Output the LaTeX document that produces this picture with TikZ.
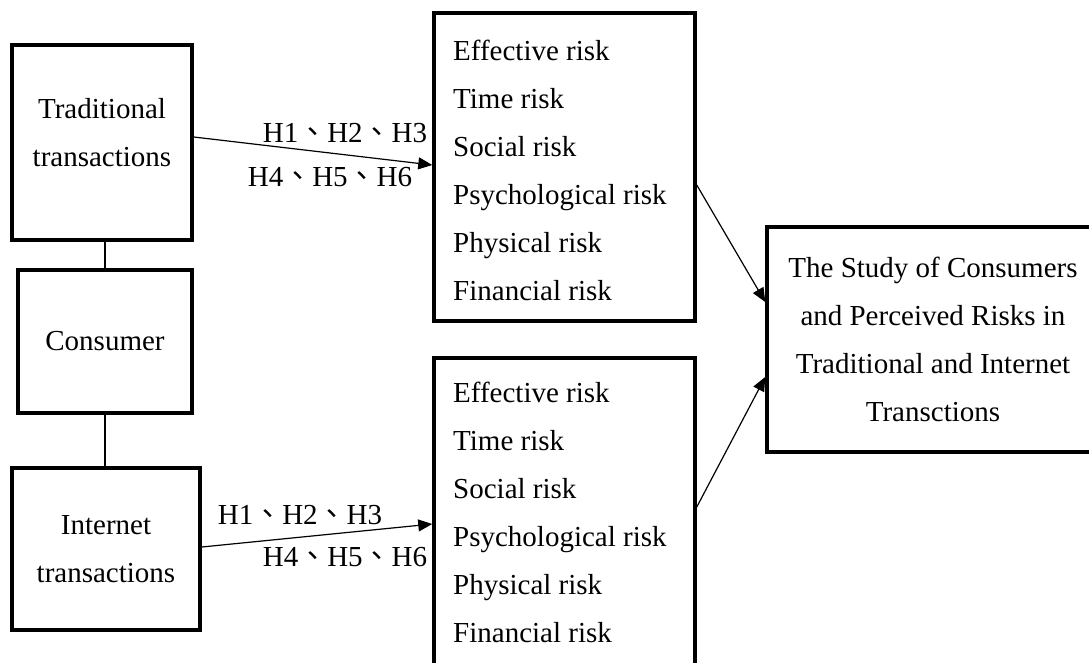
\documentclass[tikz,border=0pt]{standalone}
\usepackage{fontspec}
\setmainfont{Liberation Serif}
\newfontfamily\cjk{Noto Sans CJK TC}
\usetikzlibrary{arrows.meta}
\begin{document}
\begin{tikzpicture}[x=1pt,y=-1pt,
  box/.style={draw, line width=3.5pt, rectangle, inner sep=0pt},
  txt/.style={font=\fontsize{29}{48}\selectfont, inner sep=0pt},
  arr/.style={line width=1.2pt, -{Triangle[length=14pt,width=12pt]}},
  link/.style={line width=1.2pt}]
\clip (0,0) rectangle (1089,662);
\fill[white] (0,0) rectangle (1089,662);
% left boxes
\node[box, minimum width=180pt, minimum height=195pt] (trad) at (102,142.5) {};
\node[txt, align=center] (tradt) at (102,132.5) {Traditional\\transactions};
\node[box, txt, minimum width=174pt, minimum height=143pt] (cons) at (105,341.5) {Consumer};
\node[box, txt, align=center, minimum width=188pt, minimum height=162pt] (inet) at (106,549) {Internet\\transactions};
% risk boxes
\node[box, minimum width=261pt, minimum height=308pt] (r1) at (564.5,167) {};
\node[txt, align=left, anchor=west] (r1t) at (453,170) {Effective risk\\Time risk\\Social risk\\Psychological risk\\Physical risk\\Financial risk};
\node[box, minimum width=261pt, minimum height=308pt] (r2) at (564.5,512) {};
\node[txt, align=left, anchor=west] (r2t) at (453,512.5) {Effective risk\\Time risk\\Social risk\\Psychological risk\\Physical risk\\Financial risk};
% final box
\node[box, txt, align=center, minimum width=332pt, minimum height=225pt] (fin) at (933,339.5) {The Study of Consumers\\and Perceived Risks in\\Traditional and Internet\\Transctions};
% connectors
\draw[link] (cons.north) -- (trad.south -| cons.north);
\draw[link] (cons.south) -- (inet.north -| cons.south);
\draw[arr] ([yshift=5.5pt]trad.east) -- ([yshift=2pt]r1.west);
\draw[arr] ([yshift=2pt]inet.east) -- ([yshift=-12pt]r2.west);
\draw[arr] ([yshift=-18pt]r1.east) -- ([yshift=37.5pt]fin.west);
\draw[arr] ([yshift=5pt]r2.east) -- ([yshift=-37.5pt]fin.west);
% labels
\node[txt] (h1a) at (345,133) {H1{\cjk 、}H2{\cjk 、}H3};
\node[txt] (h4a) at (330,177) {H4{\cjk 、}H5{\cjk 、}H6};
\node[txt] (h1b) at (300,515) {H1{\cjk 、}H2{\cjk 、}H3};
\node[txt] (h4b) at (345,557) {H4{\cjk 、}H5{\cjk 、}H6};
\end{tikzpicture}
\end{document}
